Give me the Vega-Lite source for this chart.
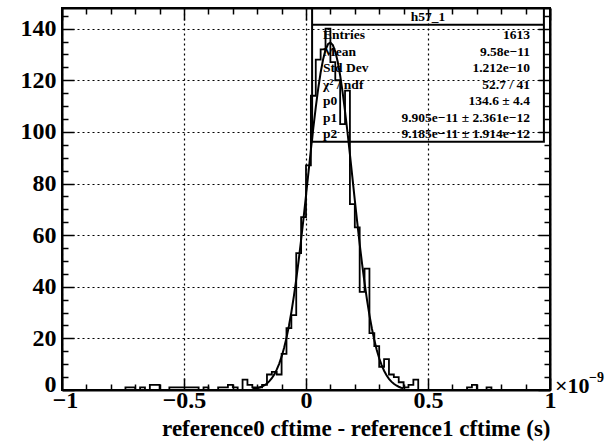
{
 "$schema": "https://vega.github.io/schema/vega-lite/v6.json",
 "width": 488, "height": 382,
 "autosize": {"type": "none"},
 "padding": {"left": 62, "top": 8, "right": 58, "bottom": 53},
 "background": "white",
 "datasets": {
  "hist": [
   {"t":-0.99,"n":0},{"t":-0.97,"n":0},{"t":-0.95,"n":0},{"t":-0.93,"n":0},{"t":-0.91,"n":0},
   {"t":-0.89,"n":0},{"t":-0.87,"n":0},{"t":-0.85,"n":0},{"t":-0.83,"n":0},{"t":-0.81,"n":0},
   {"t":-0.79,"n":0},{"t":-0.77,"n":0},{"t":-0.75,"n":0},{"t":-0.73,"n":1},{"t":-0.71,"n":1},
   {"t":-0.69,"n":0},{"t":-0.67,"n":1},{"t":-0.65,"n":0},{"t":-0.63,"n":2},{"t":-0.61,"n":2},
   {"t":-0.59,"n":0},{"t":-0.57,"n":0},{"t":-0.55,"n":1},{"t":-0.53,"n":1},{"t":-0.51,"n":1},
   {"t":-0.49,"n":1},{"t":-0.47,"n":1},{"t":-0.45,"n":1},{"t":-0.43,"n":0},{"t":-0.41,"n":1},
   {"t":-0.39,"n":0},{"t":-0.37,"n":0},{"t":-0.35,"n":1},{"t":-0.33,"n":1},{"t":-0.31,"n":2},
   {"t":-0.29,"n":1},{"t":-0.27,"n":0},{"t":-0.25,"n":4},{"t":-0.23,"n":2},{"t":-0.21,"n":1},
   {"t":-0.19,"n":1},{"t":-0.17,"n":2},{"t":-0.15,"n":6},{"t":-0.13,"n":7},{"t":-0.11,"n":6},
   {"t":-0.09,"n":14},{"t":-0.07,"n":24},{"t":-0.05,"n":29},{"t":-0.03,"n":53},{"t":-0.01,"n":67},
   {"t":0.01,"n":87},{"t":0.03,"n":114},{"t":0.05,"n":128},{"t":0.07,"n":132},{"t":0.09,"n":140},
   {"t":0.11,"n":127},{"t":0.13,"n":120},{"t":0.15,"n":103},{"t":0.17,"n":116},{"t":0.19,"n":72},
   {"t":0.21,"n":63},{"t":0.23,"n":38},{"t":0.25,"n":47},{"t":0.27,"n":22},{"t":0.29,"n":17},
   {"t":0.31,"n":9},{"t":0.33,"n":12},{"t":0.35,"n":6},{"t":0.37,"n":5},{"t":0.39,"n":3},
   {"t":0.41,"n":1},{"t":0.43,"n":2},{"t":0.45,"n":4},{"t":0.47,"n":0},{"t":0.49,"n":0},
   {"t":0.51,"n":0},{"t":0.53,"n":0},{"t":0.55,"n":0},{"t":0.57,"n":0},{"t":0.59,"n":0},
   {"t":0.61,"n":0},{"t":0.63,"n":0},{"t":0.65,"n":0},{"t":0.67,"n":1},{"t":0.69,"n":2},
   {"t":0.71,"n":0},{"t":0.73,"n":0},{"t":0.75,"n":1},{"t":0.77,"n":0},{"t":0.79,"n":0},
   {"t":0.81,"n":0},{"t":0.83,"n":0},{"t":0.85,"n":0},{"t":0.87,"n":0},{"t":0.89,"n":0},
   {"t":0.91,"n":0},{"t":0.93,"n":0},{"t":0.95,"n":0},{"t":0.97,"n":0},{"t":0.99,"n":0}
  ],
  "fit": [
   {"t":-0.22,"f":0.33},{"t":-0.21,"f":0.47},{"t":-0.2,"f":0.68},{"t":-0.19,"f":0.96},{"t":-0.18,"f":1.34},
   {"t":-0.17,"f":1.86},{"t":-0.16,"f":2.54},{"t":-0.15,"f":3.43},{"t":-0.14,"f":4.58},{"t":-0.13,"f":6.04},
   {"t":-0.12,"f":7.87},{"t":-0.11,"f":10.14},{"t":-0.1,"f":12.91},{"t":-0.09,"f":16.24},{"t":-0.08,"f":20.19},
   {"t":-0.07,"f":24.82},{"t":-0.06,"f":30.13},{"t":-0.05,"f":36.16},{"t":-0.04,"f":42.89},{"t":-0.03,"f":50.26},
   {"t":-0.02,"f":58.21},{"t":-0.01,"f":66.61},{"t":0,"f":75.35},{"t":0.01,"f":84.22},{"t":0.02,"f":93.02},
   {"t":0.03,"f":101.54},{"t":0.04,"f":109.54},{"t":0.05,"f":116.77},{"t":0.06,"f":123.01},{"t":0.07,"f":128.06},
   {"t":0.08,"f":131.75},{"t":0.09,"f":133.95},{"t":0.1,"f":134.59},{"t":0.11,"f":133.64},{"t":0.12,"f":131.13},
   {"t":0.13,"f":127.16},{"t":0.14,"f":121.85},{"t":0.15,"f":115.39},{"t":0.16,"f":107.99},{"t":0.17,"f":99.87},
   {"t":0.18,"f":91.29},{"t":0.19,"f":82.44},{"t":0.2,"f":73.59},{"t":0.21,"f":64.91},{"t":0.22,"f":56.57},
   {"t":0.23,"f":48.73},{"t":0.24,"f":41.48},{"t":0.25,"f":34.9},{"t":0.26,"f":29.02},{"t":0.27,"f":23.84},
   {"t":0.28,"f":19.36},{"t":0.29,"f":15.53},{"t":0.3,"f":12.31},{"t":0.31,"f":9.65},{"t":0.32,"f":7.47},
   {"t":0.33,"f":5.72},{"t":0.34,"f":4.32},{"t":0.35,"f":3.23},{"t":0.36,"f":2.39},{"t":0.37,"f":1.74},
   {"t":0.38,"f":1.26},{"t":0.39,"f":0.9},{"t":0.4,"f":0.63}
  ],
  "stats": [
   {"k":"Entries","v":"1613"},
   {"k":"Mean","v":"9.58e−11"},
   {"k":"Std Dev","v":"1.212e−10"},
   {"k":"χ² / ndf","v":"52.7 / 41"},
   {"k":"p0","v":"134.6  ± 4.4"},
   {"k":"p1","v":"9.905e−11  ± 2.361e−12"},
   {"k":"p2","v":"9.185e−11  ± 1.914e−12"}
  ]
 },
 "layer": [
  {
   "data": {"name": "hist"},
   "mark": {"type": "line", "interpolate": "step", "color": "black", "strokeWidth": 1.8},
   "encoding": {
    "x": {"field": "t", "type": "quantitative",
     "scale": {"domain": [-1, 1], "nice": false, "zero": false},
     "axis": {"orient": "bottom",
      "values": [-1,-0.9,-0.8,-0.7,-0.6,-0.5,-0.4,-0.3,-0.2,-0.1,0,0.1,0.2,0.3,0.4,0.5,0.6,0.7,0.8,0.9,1],
      "labelExpr": "abs(datum.value*2-round(datum.value*2))<0.001 ? format(datum.value,'~g') : ''",
      "tickSize": {"condition": {"test": "abs(datum.value*2-round(datum.value*2))<0.001", "value": -12}, "value": -6},
      "grid": true,
      "gridOpacity": {"condition": {"test": "abs(datum.value*2-round(datum.value*2))<0.001", "value": 1}, "value": 0},
      "labelOffset": {"condition": {"test": "datum.value === -1", "value": 3}, "value": 0},
      "labelPadding": 10, "labelFlush": false, "labelOverlap": false, "labelBound": false,
      "labelFontSize": 24,
      "title": "reference0 cftime - reference1 cftime (s)",
      "titleFontSize": 23,
      "titleAnchor": "end", "titleY": 45, "titleBaseline": "alphabetic"}},
    "y": {"field": "n", "type": "quantitative",
     "scale": {"domain": [0, 148], "nice": false, "zero": true},
     "axis": {"orient": "left",
      "values": [0,5,10,15,20,25,30,35,40,45,50,55,60,65,70,75,80,85,90,95,100,105,110,115,120,125,130,135,140,145],
      "labelExpr": "datum.value % 20 === 0 ? format(datum.value,'d') : ''",
      "tickSize": {"condition": {"test": "datum.value % 20 === 0", "value": -12}, "value": -6},
      "grid": true,
      "gridOpacity": {"condition": {"test": "datum.value % 20 === 0 && datum.value > 0", "value": 1}, "value": 0},
      "labelOffset": {"condition": {"test": "datum.value === 0", "value": -6}, "value": 0},
      "labelPadding": 18, "labelOverlap": false, "labelBound": false, "labelFlush": false,
      "labelFontSize": 24,
      "title": null}}
   }
  },
  {
   "data": {"name": "fit"},
   "mark": {"type": "line", "interpolate": "linear", "color": "black", "strokeWidth": 2},
   "encoding": {
    "x": {"field": "t", "type": "quantitative",
     "axis": {"orient": "top",
      "values": [-1,-0.9,-0.8,-0.7,-0.6,-0.5,-0.4,-0.3,-0.2,-0.1,0,0.1,0.2,0.3,0.4,0.5,0.6,0.7,0.8,0.9,1],
      "labels": false, "grid": false, "title": null,
      "tickSize": {"condition": {"test": "abs(datum.value*2-round(datum.value*2))<0.001", "value": -12}, "value": -6}}},
    "y": {"field": "f", "type": "quantitative",
     "scale": {"domain": [0, 148], "nice": false},
     "axis": {"orient": "right",
      "values": [0,5,10,15,20,25,30,35,40,45,50,55,60,65,70,75,80,85,90,95,100,105,110,115,120,125,130,135,140,145],
      "labels": false, "grid": false, "title": null,
      "tickSize": {"condition": {"test": "datum.value % 20 === 0", "value": -12}, "value": -6}}}
   }
  },
  {
   "data": {"values": [{"box": "h57_1"}]},
   "mark": {"type": "rect", "filled": false, "stroke": "black", "strokeWidth": 2},
   "encoding": {
    "x": {"datum": 0.025, "type": "quantitative", "axis": null},
    "x2": {"datum": 0.975},
    "y": {"datum": 148, "type": "quantitative", "scale": {"domain": [0, 148], "nice": false}, "axis": null},
    "y2": {"datum": 96.2}
   }
  },
  {
   "data": {"values": [{"box": "h57_1"}]},
   "mark": {"type": "rule", "color": "black", "strokeWidth": 2},
   "encoding": {
    "x": {"datum": 0.025, "type": "quantitative", "axis": null},
    "x2": {"datum": 0.975},
    "y": {"datum": 141.5, "type": "quantitative", "scale": {"domain": [0, 148], "nice": false}, "axis": null}
   }
  },
  {
   "data": {"values": [{"box": "h57_1"}]},
   "mark": {"type": "text", "font": "Liberation Serif", "fontWeight": "bold", "fontSize": 13.5, "align": "center", "baseline": "middle", "color": "black"},
   "encoding": {
    "text": {"field": "box"},
    "x": {"datum": 0.5, "type": "quantitative", "axis": null},
    "y": {"datum": 144.7, "type": "quantitative", "scale": {"domain": [0, 148], "nice": false}, "axis": null}
   }
  },
  {
   "data": {"name": "stats"},
   "mark": {"type": "text", "font": "Liberation Serif", "fontWeight": "bold", "fontSize": 13.5, "align": "left", "baseline": "middle", "color": "black"},
   "encoding": {
    "text": {"field": "k"},
    "x": {"datum": 0.07, "type": "quantitative", "axis": null},
    "y": {"field": "k", "type": "ordinal", "sort": null, "axis": null,
     "scale": {"type": "point", "range": [27, 126], "padding": 0}}
   }
  },
  {
   "data": {"name": "stats"},
   "mark": {"type": "text", "font": "Liberation Serif", "fontWeight": "bold", "fontSize": 13.5, "align": "right", "baseline": "middle", "color": "black"},
   "encoding": {
    "text": {"field": "v"},
    "x": {"datum": 0.918, "type": "quantitative", "axis": null},
    "y": {"field": "k", "type": "ordinal", "sort": null, "axis": null,
     "scale": {"type": "point", "range": [27, 126], "padding": 0}}
   }
  },
  {
   "data": {"values": [{"s": "×10"}]},
   "mark": {"type": "text", "font": "Liberation Serif", "fontWeight": "bold", "fontSize": 22, "align": "left", "baseline": "alphabetic", "dx": 5, "dy": 3, "color": "black"},
   "encoding": {
    "text": {"field": "s"},
    "x": {"datum": 1, "type": "quantitative", "axis": null},
    "y": {"datum": 0, "type": "quantitative", "scale": {"domain": [0, 148], "nice": false}, "axis": null}
   }
  },
  {
   "data": {"values": [{"s": "−9"}]},
   "mark": {"type": "text", "font": "Liberation Serif", "fontWeight": "bold", "fontSize": 14, "align": "left", "baseline": "alphabetic", "dx": 39, "dy": -8, "color": "black"},
   "encoding": {
    "text": {"field": "s"},
    "x": {"datum": 1, "type": "quantitative", "axis": null},
    "y": {"datum": 0, "type": "quantitative", "scale": {"domain": [0, 148], "nice": false}, "axis": null}
   }
  }
 ],
 "resolve": {"scale": {"y": "independent"}, "axis": {"x": "independent", "y": "independent"}},
 "config": {
  "view": {"stroke": "black", "strokeWidth": 2},
  "font": "Liberation Serif",
  "axis": {
   "domainColor": "black", "domainWidth": 2,
   "tickColor": "black", "tickWidth": 1.5,
   "labelFont": "Liberation Serif", "labelFontWeight": "bold", "labelFontSize": 22, "labelColor": "black",
   "titleFont": "Liberation Serif", "titleFontWeight": "bold", "titleFontSize": 20, "titleColor": "black",
   "gridColor": "black", "gridDash": [2, 3], "gridWidth": 1.2
  }
 }
}
